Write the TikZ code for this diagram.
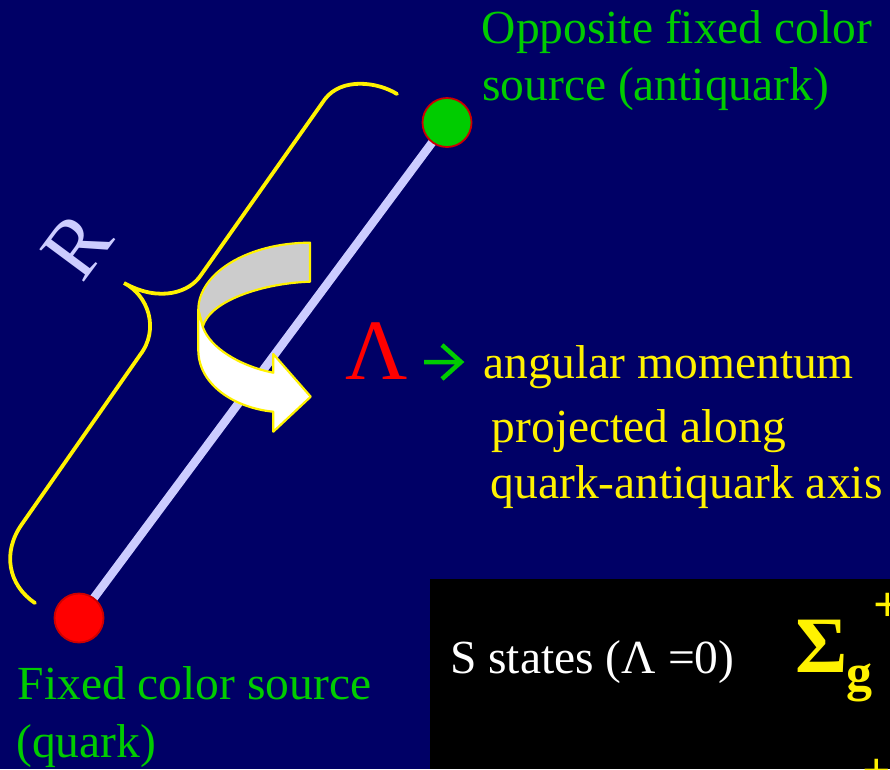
\documentclass[tikz,border=0pt]{standalone}
\usepackage{fontspec}
\setmainfont{Liberation Serif}
\definecolor{bgnavy}{HTML}{000066}
\definecolor{axisc}{HTML}{CCCCFF}
\definecolor{srcgreen}{HTML}{00CC00}
\definecolor{rimred}{HTML}{CC0000}
\definecolor{ribbongray}{HTML}{CCCCCC}
\begin{document}
\begin{tikzpicture}[x=1pt,y=-1pt,
  txt/.style={inner sep=0pt, anchor=base west},
  big/.style={font=\fontsize{47.5}{57}\selectfont},
  huge/.style={font=\fontsize{86}{100}\selectfont},
  source/.style={circle, inner sep=0pt, minimum size=49pt, draw=rimred, line width=1.8pt},
  ribbon/.style={draw=yellow, line width=2.2pt, line join=round},
  brace/.style={draw=yellow, line width=3.8pt, line cap=round},
  greenarrow/.style={draw=srcgreen, line width=4.5pt, miter limit=10}]
\useasboundingbox (0,0) rectangle (890,769);
\clip (0,0) rectangle (890,769);
\fill[bgnavy] (0,0) rectangle (890,769);

% black table panel
\fill[black] (430,579) rectangle (890,769);

% axis and sources
\coordinate (qc) at (79,618);
\coordinate (aqc) at (447,122.5);
\draw[axisc, line width=8.5pt] (qc) -- (aqc);
\node[source, fill=red] (q) at (qc) {};
\node[source, fill=srcgreen] (aq) at (aqc) {};

% brace
\draw[brace] (397,94) .. controls (378,82) and (342,77) .. (325,99)
  -- (201,275) .. controls (190,292) and (160,303) .. (124,283)
  .. controls (148,295) and (160,329) .. (140,355)
  -- (22,524) .. controls (2,552) and (8,585) .. (35,603);
\node[inner sep=0pt, axisc, font=\fontsize{84}{100}\selectfont, rotate=53.4] (R) at (77,246) {R};

% ribbon arrow
\filldraw[ribbon, fill=ribbongray] (310,242.7) .. controls (248.3,242.7) and (198.3,272.9) .. (198.3,310)
  -- (202.7,326.7) .. controls (210,300) and (265,283) .. (310,281.7) -- cycle;
\filldraw[ribbon, fill=white] (198.3,310) -- (198.3,350)
  .. controls (198.3,385) and (235,408) .. (273.3,411.7)
  -- (273.3,431.7) -- (310.7,396.7) -- (273.3,354) -- (273.3,372.7)
  .. controls (240,366) and (210,348) .. (202.7,326.7) -- cycle;

% labels
\node[txt, big, srcgreen] (opp1) at (481.5,43) {Opposite fixed color};
\node[txt, big, srcgreen] (opp2) at (482,100) {source (antiquark)};
\node[txt, big, srcgreen] (fix1) at (17.5,699) {Fixed color source};
\node[txt, big, srcgreen] (fix2) at (16,757) {(quark)};

\node[txt, huge, red] (lam) at (345,379) {Λ};
\coordinate (a1) at (424,362);
\coordinate (a2) at (461,362);
\coordinate (a3) at (442,345);
\coordinate (a4) at (442,379);
\draw[greenarrow] (a1) -- (a2) (a3) -- (a2) -- (a4);
\node[txt, big, yellow] (am1) at (483,378) {angular momentum};
\node[txt, big, yellow] (am2) at (491.5,442) {projected along};
\node[txt, big, yellow] (am3) at (490.5,498) {quark-antiquark axis};

\node[txt, big, white] (sst) at (450,673) {S states (Λ =0)};
\node[txt, yellow, font=\fontsize{80}{90}\selectfont\bfseries] (sig) at (795,672) {Σ};
\node[txt, yellow, font=\fontsize{52}{60}\selectfont\bfseries] (sub) at (846,690) {g};
\node[txt, yellow, font=\fontsize{50}{60}\selectfont\bfseries] (sup) at (873,621) {+};
\node[txt, yellow, font=\fontsize{50}{60}\selectfont\bfseries] (sup2) at (862,787) {+};
\end{tikzpicture}
\end{document}
